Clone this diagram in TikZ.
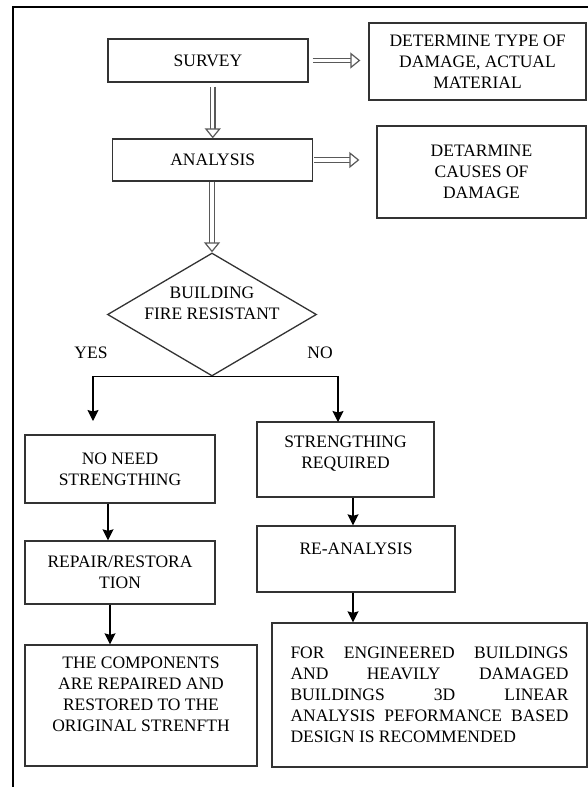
\documentclass[tikz,border=0pt]{standalone}
\usepackage{fontspec}
\setmainfont{Liberation Serif}
\usetikzlibrary{arrows.meta,shapes.geometric}

\tikzset{
  box/.style={draw=black!80, line width=1.3pt, align=center, inner sep=0pt,
    font=\fontsize{17.5}{21}\selectfont},
  lbl/.style={align=center, inner sep=0pt, font=\fontsize{17.5}{21}\selectfont},
  dbl/.style={draw=black!65, double=white, double distance=3.2pt, line width=1.2pt,
    -{Triangle[open, fill=white, length=10pt, width=16pt]}},
  arr/.style={line width=1.3pt, -{Stealth[length=11pt,width=11pt,inset=1.5pt]}},
}

\begin{document}
\begin{tikzpicture}[x=1pt,y=-1pt]
    \useasboundingbox (0,0) rectangle (588,787);

    % 外枠
    \draw[line width=2.6pt] (13,787) -- (13,7) -- (588,7);

    % 調査と解析
    \node[box, minimum width=200, minimum height=43] (survey) at (208,60.5) {SURVEY};
    \node[box, minimum width=217, minimum height=77] (dtype) at (477.5,61.5) {DETERMINE TYPE OF\\DAMAGE, ACTUAL\\MATERIAL};
    \node[box, minimum width=200, minimum height=42] (analysis) at (212.75,160) {ANALYSIS};
    \node[box, minimum width=209, minimum height=92] (dcause) at (481.5,172) {DETARMINE\\CAUSES OF\\DAMAGE};

    % 判定
    \node[diamond, draw=black!80, line width=1.3pt, inner sep=0pt, minimum width=209, minimum height=123] (fire) at (212,314.5) {};
    \node[lbl] (firetext) at (212,303) {BUILDING\\FIRE RESISTANT};
    \node[lbl] (yes) at (91,353) {YES};
    \node[lbl] (no) at (320,353) {NO};

    % 左の列
    \node[box, minimum width=190, minimum height=68] (noneed) at (120,469) {NO NEED\\STRENGTHING};
    \node[box, minimum width=190, minimum height=63] (repair) at (120,572.5) {REPAIR/RESTORA\\TION};
    \node[box, minimum width=232, minimum height=121, text depth=22pt] (comp) at (141,705.5) {THE COMPONENTS\\ARE REPAIRED AND\\RESTORED TO THE\\ORIGINAL STRENFTH};

    % 右の列
    \node[box, minimum width=177, minimum height=75, text depth=15pt] (strreq) at (345.5,459.5) {STRENGTHING\\REQUIRED};
    \node[box, minimum width=198, minimum height=66] (reana) at (356,559) {RE-ANALYSIS\\\mbox{}};
    \node[box, minimum width=315, minimum height=144, text width=278, align=justify] (forbox) at (429.5,695) {FOR ENGINEERED BUILDINGS\linebreak AND HEAVILY DAMAGED\linebreak BUILDINGS 3D LINEAR\linebreak ANALYSIS PEFORMANCE BASED\linebreak DESIGN IS RECOMMENDED};

    \coordinate (yesend) at (93,421);
    \coordinate (noend) at (338,422);

    % 二重矢印
    \draw[dbl, shorten <=4pt, shorten >=8pt] (survey.east) -- (survey.east -| dtype.west);
    \draw[dbl, shorten <=1pt, shorten >=17pt] (analysis.east) -- (analysis.east -| dcause.west);
    \draw[dbl, shorten <=4pt] (analysis.north |- survey.south) -- (analysis.north);
    \draw[dbl] (fire.north |- analysis.south) -- (fire.north);

    % 矢印
    \draw[arr] (fire.south) -| (yesend);
    \draw[arr] (fire.south) -| (noend);
    \draw[arr] ([xshift=-12pt]noneed.south) -- ([xshift=-12pt]repair.north);
    \draw[arr] ([xshift=-10pt]repair.south) -- ([xshift=-10pt]repair.south |- comp.north);
    \draw[arr] ([xshift=7.5pt]strreq.south) -- ([xshift=7.5pt]strreq.south |- reana.north);
    \draw[arr] ([xshift=-3pt]reana.south) -- ([xshift=-3pt]reana.south |- forbox.north);
\end{tikzpicture}
\end{document}
